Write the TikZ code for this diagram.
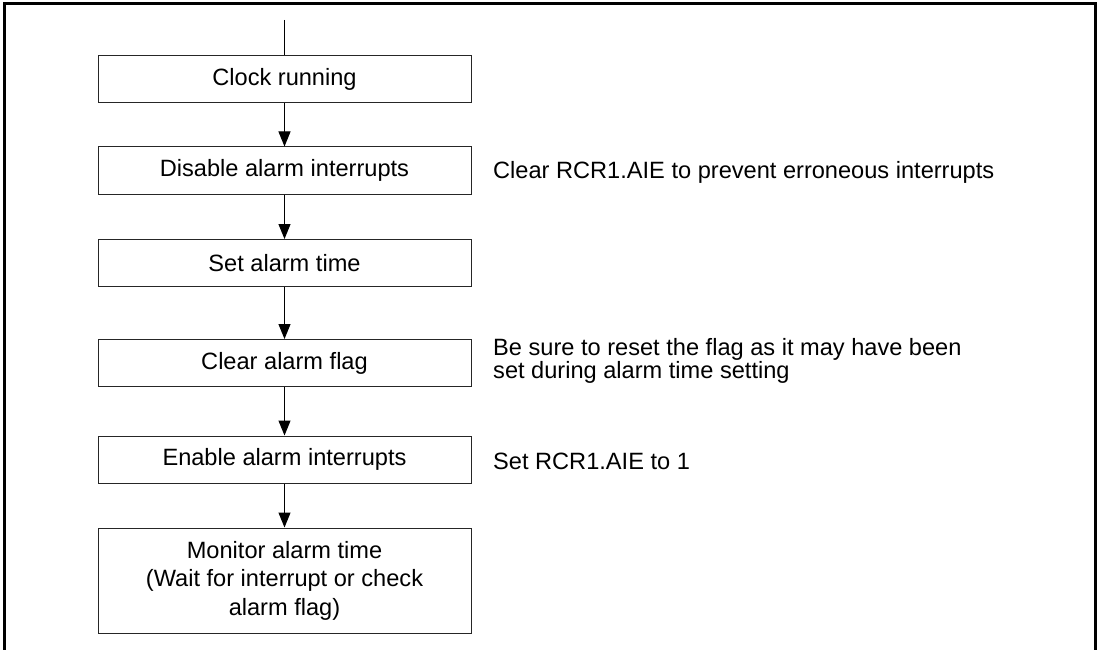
\documentclass[tikz,border=0pt]{standalone}
\usepackage{fontspec}
\setmainfont{Liberation Sans}
\usetikzlibrary{arrows.meta}
\begin{document}
\begin{tikzpicture}[x=1pt,y=-1pt,
  stepbox/.style={draw=black!85,line width=1pt,minimum width=373pt,minimum height=47pt,inner sep=0pt,align=center,font=\fontsize{23.6}{28.5}\selectfont},
  note/.style={anchor=west,inner sep=0pt,align=left,font=\fontsize{23.6}{23}\selectfont},
  flow/.style={line width=1pt,-{Triangle[length=15pt,width=12pt]}}]
\useasboundingbox (0,0) rectangle (1100,650);
\draw[line width=3pt] (4,651) -- (4,4) -- (1095,4) -- (1095,651);
\coordinate (top) at (284.5,20);
\node[stepbox] (clock) at (284.5,79.5) {Clock running};
\node[stepbox] (dis) at (284.5,170.5) {Disable alarm interrupts};
\node[stepbox] (set) at (284.5,263) {Set alarm time};
\node[stepbox] (clr) at (284.5,363) {Clear alarm flag};
\node[stepbox] (en) at (284.5,459.5) {Enable alarm interrupts};
\node[stepbox,minimum height=105pt] (mon) at (284.5,580.5) {Monitor alarm time\\(Wait for interrupt or check\\alarm flag)};
\draw[line width=1pt] (top) -- (clock.north);
\draw[flow] (clock) -- (dis);
\draw[flow] (dis) -- (set);
\draw[flow] (set) -- (clr);
\draw[flow] (clr) -- (en);
\draw[flow] (en) -- (mon);
\node[note] (n1) at (493,172) {Clear RCR1.AIE to prevent erroneous interrupts};
\node[note] (n2) at (493,361) {Be sure to reset the flag as it may have been\\set during alarm time setting};
\node[note] (n3) at (493,461) {Set RCR1.AIE to 1};
\end{tikzpicture}
\end{document}
